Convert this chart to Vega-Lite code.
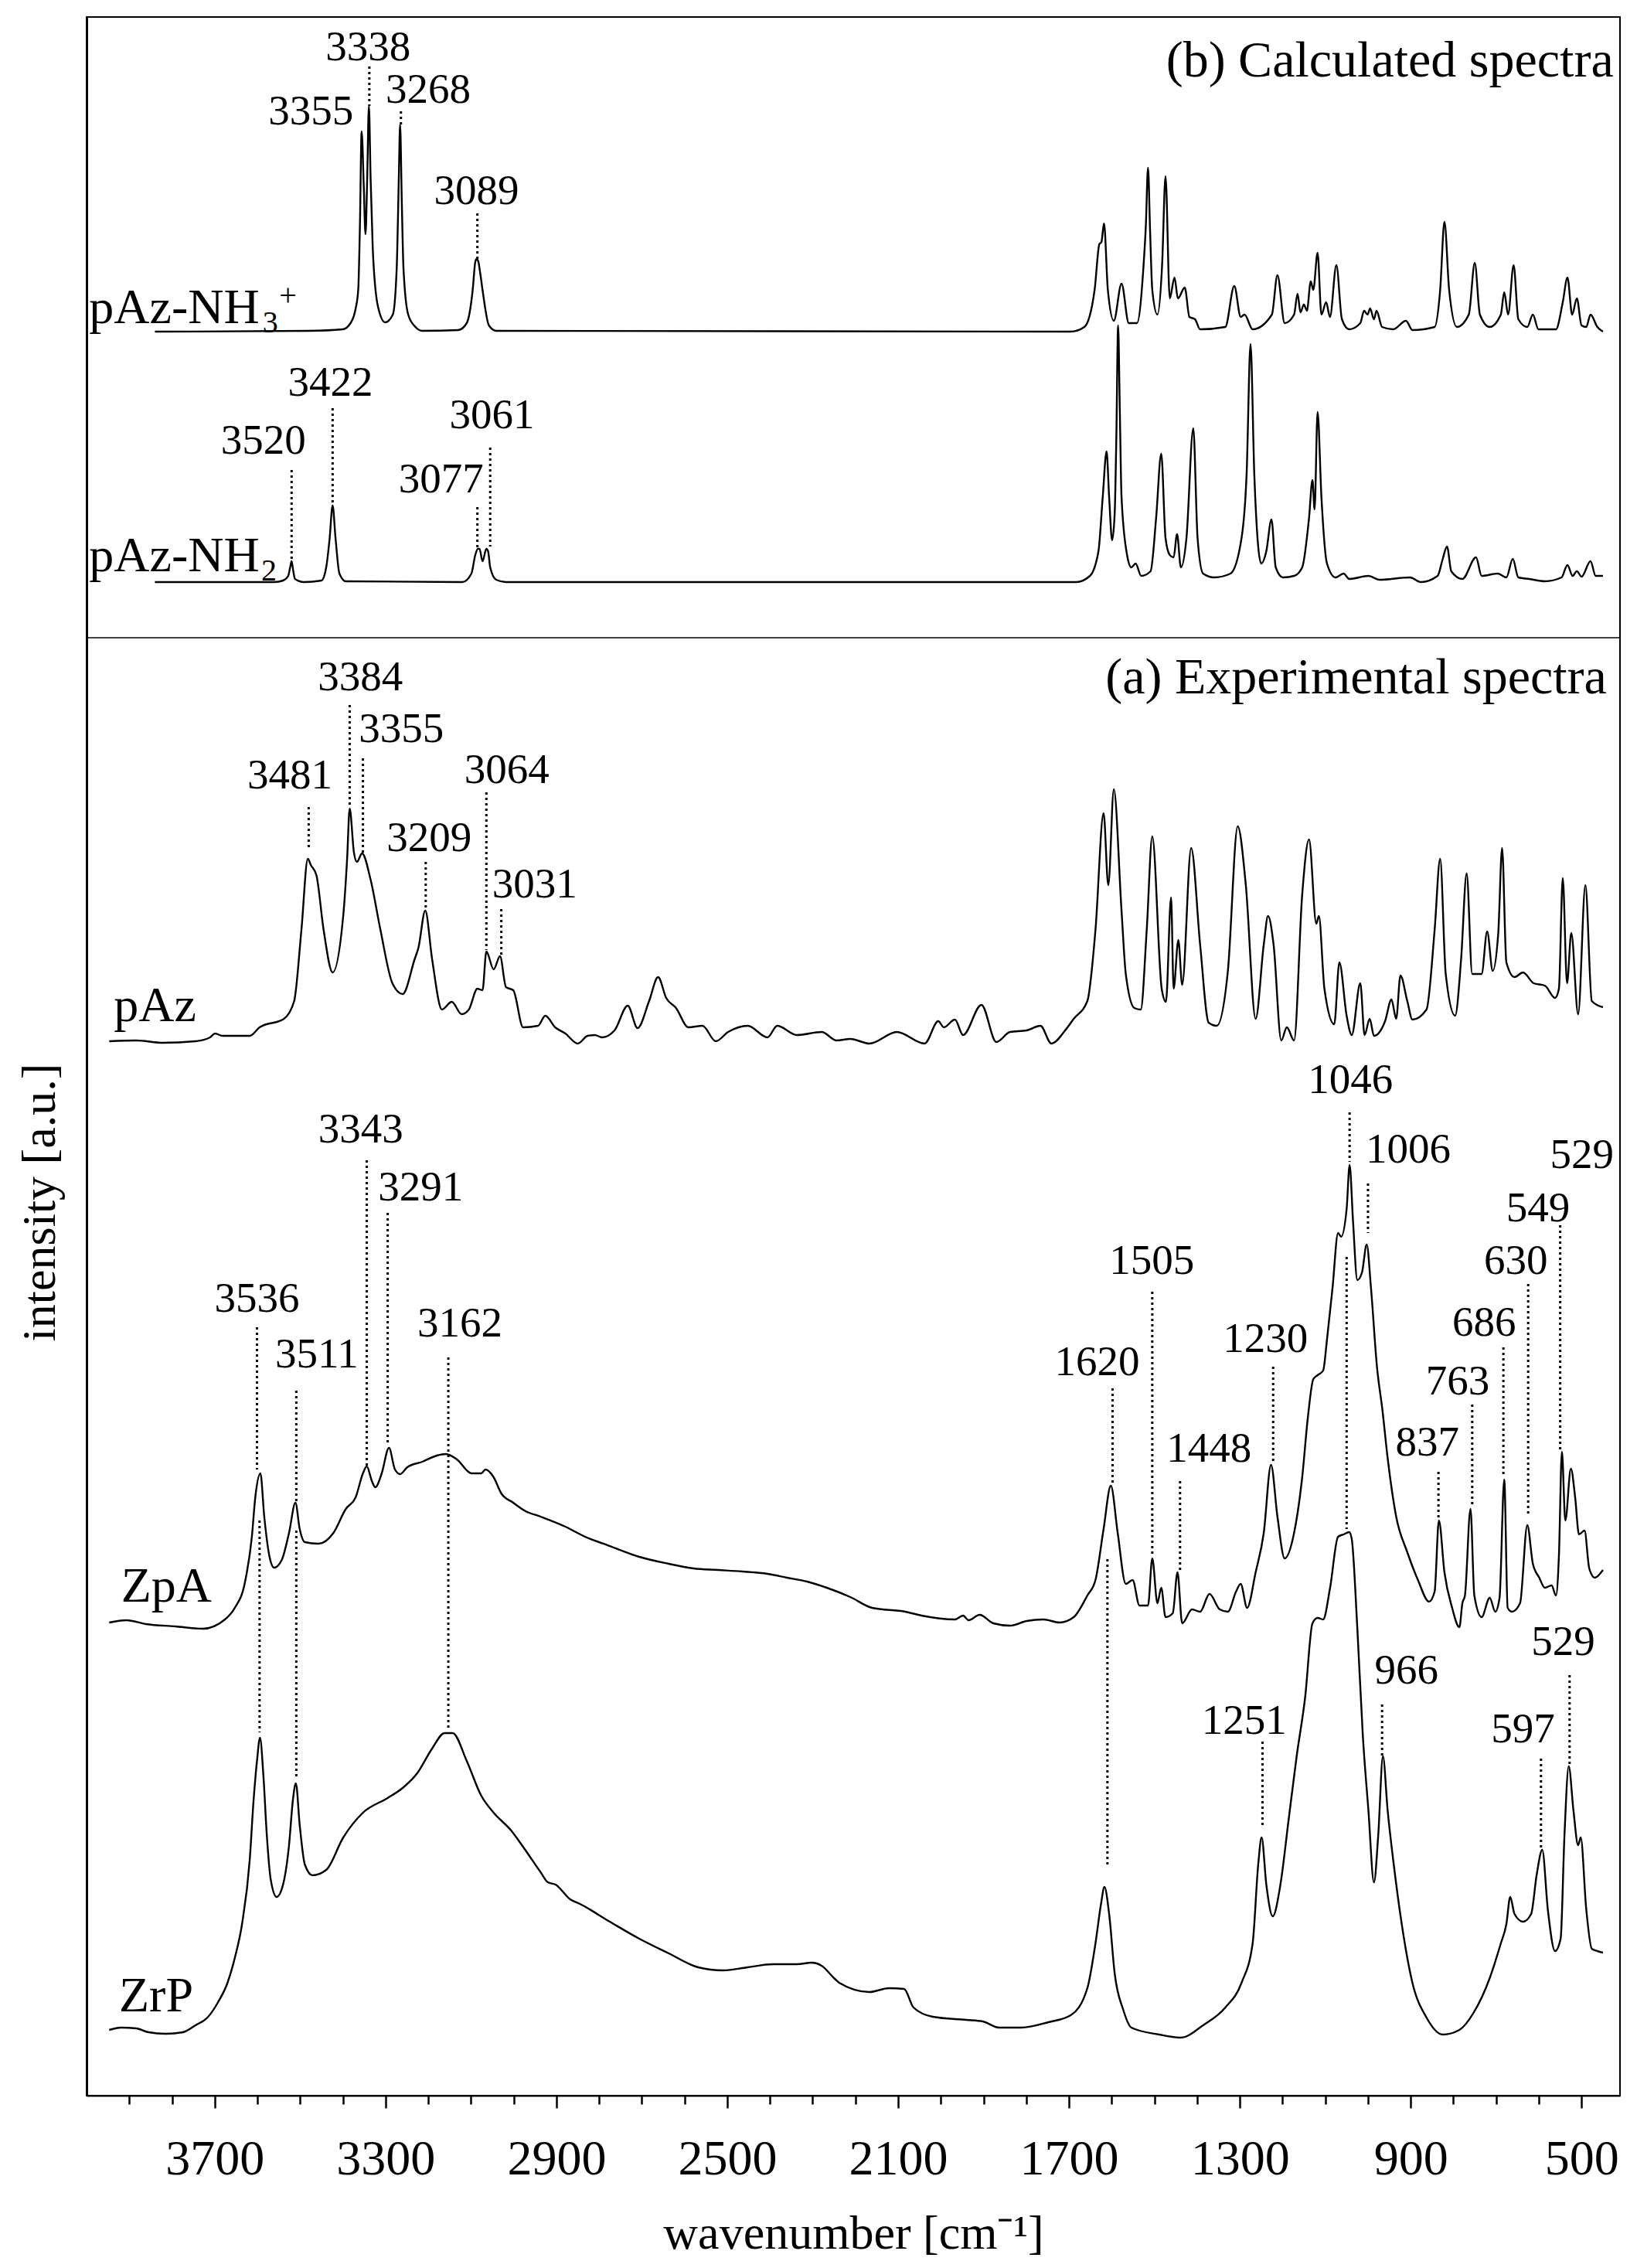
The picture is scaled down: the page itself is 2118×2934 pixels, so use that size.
{
"$schema": "https://vega.github.io/schema/vega-lite/v6.json",
"width": 1984, "height": 2689,
"autosize": {"type": "none"},
"padding": {"left": 112, "top": 22, "right": 22, "bottom": 223},
"background": "white",
"config": {"view": {"stroke": "black", "strokeWidth": 2}, "font": "Liberation Serif"},
"datasets": {
"spectra": [
{"s":"nh3","w":3840,"v":2282},{"s":"nh3","w":3480,"v":2283},{"s":"nh3","w":3400,"v":2285},{"s":"nh3","w":3382,"v":2293},{"s":"nh3","w":3370,"v":2312},{"s":"nh3","w":3364,"v":2336},{"s":"nh3","w":3360,"v":2420},{"s":"nh3","w":3356,"v":2541},{"s":"nh3","w":3351,"v":2470},{"s":"nh3","w":3347,"v":2408},{"s":"nh3","w":3343,"v":2480},{"s":"nh3","w":3339,"v":2574},{"s":"nh3","w":3335,"v":2480},{"s":"nh3","w":3330,"v":2390},{"s":"nh3","w":3318,"v":2315},{"s":"nh3","w":3301,"v":2294},{"s":"nh3","w":3283,"v":2304},{"s":"nh3","w":3274,"v":2363},{"s":"nh3","w":3269,"v":2480},{"s":"nh3","w":3266,"v":2550},{"s":"nh3","w":3262,"v":2450},{"s":"nh3","w":3258,"v":2363},{"s":"nh3","w":3247,"v":2304},{"s":"nh3","w":3230,"v":2288},{"s":"nh3","w":3214,"v":2283},{"s":"nh3","w":3130,"v":2284},{"s":"nh3","w":3110,"v":2293},{"s":"nh3","w":3096,"v":2336},{"s":"nh3","w":3090,"v":2372},{"s":"nh3","w":3087,"v":2376},{"s":"nh3","w":3083,"v":2373},{"s":"nh3","w":3079,"v":2360},{"s":"nh3","w":3073,"v":2336},{"s":"nh3","w":3058,"v":2290},{"s":"nh3","w":3041,"v":2283},{"s":"nh3","w":1696,"v":2282},
{"s":"nh3","w":1664,"v":2288},{"s":"nh3","w":1640,"v":2336},{"s":"nh3","w":1629,"v":2395},{"s":"nh3","w":1624,"v":2398},{"s":"nh3","w":1618,"v":2422},{"s":"nh3","w":1609,"v":2336},{"s":"nh3","w":1595,"v":2296},{"s":"nh3","w":1577,"v":2344},{"s":"nh3","w":1560,"v":2293},{"s":"nh3","w":1541,"v":2293},{"s":"nh3","w":1526,"v":2363},{"s":"nh3","w":1520,"v":2420},{"s":"nh3","w":1515,"v":2494},{"s":"nh3","w":1510,"v":2410},{"s":"nh3","w":1505,"v":2336},{"s":"nh3","w":1493,"v":2304},{"s":"nh3","w":1482,"v":2368},{"s":"nh3","w":1474,"v":2483},{"s":"nh3","w":1464,"v":2325},{"s":"nh3","w":1453,"v":2352},{"s":"nh3","w":1445,"v":2325},{"s":"nh3","w":1429,"v":2339},{"s":"nh3","w":1418,"v":2301},{"s":"nh3","w":1405,"v":2298},{"s":"nh3","w":1393,"v":2285},{"s":"nh3","w":1334,"v":2288},{"s":"nh3","w":1313,"v":2341},{"s":"nh3","w":1298,"v":2301},{"s":"nh3","w":1289,"v":2304},{"s":"nh3","w":1270,"v":2285},{"s":"nh3","w":1225,"v":2304},{"s":"nh3","w":1212,"v":2355},{"s":"nh3","w":1195,"v":2293},{"s":"nh3","w":1173,"v":2304},{"s":"nh3","w":1165,"v":2331},{"s":"nh3","w":1158,"v":2307},{"s":"nh3","w":1150,"v":2317},{"s":"nh3","w":1143,"v":2309},{"s":"nh3","w":1134,"v":2347},{"s":"nh3","w":1128,"v":2336},{"s":"nh3","w":1118,"v":2384},{"s":"nh3","w":1109,"v":2304},{"s":"nh3","w":1098,"v":2320},{"s":"nh3","w":1089,"v":2301},{"s":"nh3","w":1074,"v":2368},{"s":"nh3","w":1061,"v":2298},{"s":"nh3","w":1044,"v":2285},{"s":"nh3","w":1018,"v":2293},{"s":"nh3","w":1009,"v":2309},{"s":"nh3","w":1001,"v":2304},{"s":"nh3","w":995,"v":2312},{"s":"nh3","w":986,"v":2298},{"s":"nh3","w":980,"v":2309},{"s":"nh3","w":967,"v":2288},{"s":"nh3","w":941,"v":2285},{"s":"nh3","w":911,"v":2296},{"s":"nh3","w":896,"v":2284},{"s":"nh3","w":844,"v":2288},{"s":"nh3","w":831,"v":2336},{"s":"nh3","w":821,"v":2424},{"s":"nh3","w":810,"v":2336},{"s":"nh3","w":792,"v":2288},{"s":"nh3","w":764,"v":2304},{"s":"nh3","w":750,"v":2371},{"s":"nh3","w":738,"v":2304},{"s":"nh3","w":715,"v":2288},{"s":"nh3","w":689,"v":2304},{"s":"nh3","w":681,"v":2333},{"s":"nh3","w":672,"v":2304},{"s":"nh3","w":659,"v":2368},{"s":"nh3","w":648,"v":2298},{"s":"nh3","w":627,"v":2288},{"s":"nh3","w":614,"v":2304},{"s":"nh3","w":601,"v":2285},{"s":"nh3","w":560,"v":2285},{"s":"nh3","w":544,"v":2320},{"s":"nh3","w":533,"v":2352},{"s":"nh3","w":522,"v":2304},{"s":"nh3","w":511,"v":2325},{"s":"nh3","w":500,"v":2290},{"s":"nh3","w":489,"v":2288},{"s":"nh3","w":479,"v":2304},{"s":"nh3","w":463,"v":2288},{"s":"nh3","w":450,"v":2282},
{"s":"nh2","w":3840,"v":1958},{"s":"nh2","w":3560,"v":1958},{"s":"nh2","w":3540,"v":1960},{"s":"nh2","w":3528,"v":1966},{"s":"nh2","w":3523,"v":1978},{"s":"nh2","w":3520,"v":1985},{"s":"nh2","w":3516,"v":1972},{"s":"nh2","w":3512,"v":1962},{"s":"nh2","w":3491,"v":1958},{"s":"nh2","w":3450,"v":1960},{"s":"nh2","w":3439,"v":1977},{"s":"nh2","w":3431,"v":2014},{"s":"nh2","w":3424,"v":2057},{"s":"nh2","w":3417,"v":2014},{"s":"nh2","w":3408,"v":1969},{"s":"nh2","w":3393,"v":1959},{"s":"nh2","w":3120,"v":1958},{"s":"nh2","w":3099,"v":1969},{"s":"nh2","w":3090,"v":1993},{"s":"nh2","w":3084,"v":2001},{"s":"nh2","w":3080,"v":2001},{"s":"nh2","w":3073,"v":1985},{"s":"nh2","w":3064,"v":2001},{"s":"nh2","w":3060,"v":1998},{"s":"nh2","w":3055,"v":1977},{"s":"nh2","w":3041,"v":1961},{"s":"nh2","w":3018,"v":1958},{"s":"nh2","w":1683,"v":1958},
{"s":"nh2","w":1651,"v":1966},{"s":"nh2","w":1631,"v":1998},{"s":"nh2","w":1621,"v":2068},{"s":"nh2","w":1612,"v":2127},{"s":"nh2","w":1606,"v":2068},{"s":"nh2","w":1599,"v":2012},{"s":"nh2","w":1593,"v":2047},{"s":"nh2","w":1589,"v":2150},{"s":"nh2","w":1585,"v":2290},{"s":"nh2","w":1581,"v":2180},{"s":"nh2","w":1577,"v":2068},{"s":"nh2","w":1564,"v":1993},{"s":"nh2","w":1554,"v":1977},{"s":"nh2","w":1544,"v":1982},{"s":"nh2","w":1531,"v":1966},{"s":"nh2","w":1509,"v":1972},{"s":"nh2","w":1496,"v":2041},{"s":"nh2","w":1484,"v":2124},{"s":"nh2","w":1474,"v":2015},{"s":"nh2","w":1464,"v":1993},{"s":"nh2","w":1455,"v":1990},{"s":"nh2","w":1447,"v":2020},{"s":"nh2","w":1438,"v":1977},{"s":"nh2","w":1425,"v":2015},{"s":"nh2","w":1409,"v":2157},{"s":"nh2","w":1399,"v":2015},{"s":"nh2","w":1386,"v":1969},{"s":"nh2","w":1360,"v":1964},{"s":"nh2","w":1322,"v":1969},{"s":"nh2","w":1296,"v":2015},{"s":"nh2","w":1284,"v":2100},{"s":"nh2","w":1275,"v":2266},{"s":"nh2","w":1266,"v":2095},{"s":"nh2","w":1250,"v":1982},{"s":"nh2","w":1238,"v":1998},{"s":"nh2","w":1226,"v":2039},{"s":"nh2","w":1216,"v":1977},{"s":"nh2","w":1199,"v":1964},{"s":"nh2","w":1173,"v":1966},{"s":"nh2","w":1154,"v":1977},{"s":"nh2","w":1138,"v":2041},{"s":"nh2","w":1130,"v":2090},{"s":"nh2","w":1125,"v":2052},{"s":"nh2","w":1118,"v":2178},{"s":"nh2","w":1109,"v":2068},{"s":"nh2","w":1096,"v":1982},{"s":"nh2","w":1076,"v":1964},{"s":"nh2","w":1057,"v":1969},{"s":"nh2","w":1044,"v":1962},{"s":"nh2","w":999,"v":1966},{"s":"nh2","w":973,"v":1961},{"s":"nh2","w":902,"v":1964},{"s":"nh2","w":876,"v":1958},{"s":"nh2","w":837,"v":1966},{"s":"nh2","w":825,"v":1988},{"s":"nh2","w":815,"v":2004},{"s":"nh2","w":805,"v":1972},{"s":"nh2","w":779,"v":1962},{"s":"nh2","w":747,"v":1990},{"s":"nh2","w":734,"v":1966},{"s":"nh2","w":696,"v":1969},{"s":"nh2","w":676,"v":1964},{"s":"nh2","w":661,"v":1988},{"s":"nh2","w":648,"v":1964},{"s":"nh2","w":622,"v":1962},{"s":"nh2","w":586,"v":1959},{"s":"nh2","w":547,"v":1964},{"s":"nh2","w":533,"v":1980},{"s":"nh2","w":521,"v":1966},{"s":"nh2","w":511,"v":1972},{"s":"nh2","w":500,"v":1965},{"s":"nh2","w":479,"v":1985},{"s":"nh2","w":467,"v":1966},{"s":"nh2","w":450,"v":1966},
{"s":"paz","w":3947,"v":1364},{"s":"paz","w":3884,"v":1365},{"s":"paz","w":3821,"v":1362},{"s":"paz","w":3745,"v":1364},{"s":"paz","w":3711,"v":1369},{"s":"paz","w":3699,"v":1374},{"s":"paz","w":3682,"v":1371},{"s":"paz","w":3618,"v":1371},{"s":"paz","w":3595,"v":1382},{"s":"paz","w":3538,"v":1393},{"s":"paz","w":3514,"v":1416},{"s":"paz","w":3497,"v":1508},{"s":"paz","w":3482,"v":1600},{"s":"paz","w":3475,"v":1592},{"s":"paz","w":3462,"v":1579},{"s":"paz","w":3445,"v":1508},{"s":"paz","w":3424,"v":1453},{"s":"paz","w":3399,"v":1527},{"s":"paz","w":3390,"v":1600},{"s":"paz","w":3384,"v":1665},{"s":"paz","w":3374,"v":1608},{"s":"paz","w":3367,"v":1596},{"s":"paz","w":3355,"v":1607},{"s":"paz","w":3335,"v":1573},{"s":"paz","w":3312,"v":1508},{"s":"paz","w":3284,"v":1439},{"s":"paz","w":3260,"v":1425},{"s":"paz","w":3232,"v":1470},{"s":"paz","w":3223,"v":1485},{"s":"paz","w":3207,"v":1533},{"s":"paz","w":3191,"v":1470},{"s":"paz","w":3168,"v":1405},{"s":"paz","w":3145,"v":1415},{"s":"paz","w":3122,"v":1399},{"s":"paz","w":3105,"v":1405},{"s":"paz","w":3085,"v":1432},{"s":"paz","w":3073,"v":1430},{"s":"paz","w":3064,"v":1480},{"s":"paz","w":3047,"v":1457},{"s":"paz","w":3032,"v":1474},{"s":"paz","w":3018,"v":1434},{"s":"paz","w":3001,"v":1430},{"s":"paz","w":2978,"v":1382},{"s":"paz","w":2943,"v":1384},{"s":"paz","w":2926,"v":1397},{"s":"paz","w":2903,"v":1382},{"s":"paz","w":2879,"v":1374},{"s":"paz","w":2850,"v":1361},{"s":"paz","w":2827,"v":1371},{"s":"paz","w":2810,"v":1372},{"s":"paz","w":2793,"v":1369},{"s":"paz","w":2764,"v":1378},{"s":"paz","w":2733,"v":1410},{"s":"paz","w":2710,"v":1381},{"s":"paz","w":2683,"v":1416},{"s":"paz","w":2662,"v":1447},{"s":"paz","w":2643,"v":1420},{"s":"paz","w":2620,"v":1407},{"s":"paz","w":2591,"v":1382},{"s":"paz","w":2558,"v":1384},{"s":"paz","w":2527,"v":1364},{"s":"paz","w":2498,"v":1376},{"s":"paz","w":2452,"v":1384},{"s":"paz","w":2406,"v":1369},{"s":"paz","w":2383,"v":1384},{"s":"paz","w":2337,"v":1372},{"s":"paz","w":2279,"v":1376},{"s":"paz","w":2244,"v":1365},{"s":"paz","w":2212,"v":1367},
{"s":"paz","w":2167,"v":1361},{"s":"paz","w":2103,"v":1376},{"s":"paz","w":2038,"v":1361},{"s":"paz","w":2006,"v":1390},{"s":"paz","w":1993,"v":1382},{"s":"paz","w":1967,"v":1392},{"s":"paz","w":1948,"v":1372},{"s":"paz","w":1905,"v":1411},{"s":"paz","w":1870,"v":1363},{"s":"paz","w":1838,"v":1376},{"s":"paz","w":1799,"v":1378},{"s":"paz","w":1767,"v":1384},{"s":"paz","w":1741,"v":1361},{"s":"paz","w":1709,"v":1378},{"s":"paz","w":1689,"v":1393},{"s":"paz","w":1657,"v":1416},{"s":"paz","w":1638,"v":1508},{"s":"paz","w":1619,"v":1659},{"s":"paz","w":1608,"v":1566},{"s":"paz","w":1595,"v":1690},{"s":"paz","w":1577,"v":1533},{"s":"paz","w":1567,"v":1451},{"s":"paz","w":1547,"v":1407},{"s":"paz","w":1532,"v":1405},{"s":"paz","w":1518,"v":1508},{"s":"paz","w":1505,"v":1629},{"s":"paz","w":1483,"v":1432},{"s":"paz","w":1473,"v":1415},{"s":"paz","w":1461,"v":1550},{"s":"paz","w":1455,"v":1432},{"s":"paz","w":1444,"v":1495},{"s":"paz","w":1435,"v":1437},{"s":"paz","w":1414,"v":1614},{"s":"paz","w":1393,"v":1489},{"s":"paz","w":1373,"v":1388},{"s":"paz","w":1354,"v":1384},{"s":"paz","w":1328,"v":1455},{"s":"paz","w":1305,"v":1642},{"s":"paz","w":1286,"v":1566},{"s":"paz","w":1263,"v":1393},{"s":"paz","w":1244,"v":1489},{"s":"paz","w":1234,"v":1526},{"s":"paz","w":1221,"v":1489},{"s":"paz","w":1203,"v":1365},{"s":"paz","w":1190,"v":1382},{"s":"paz","w":1173,"v":1365},{"s":"paz","w":1154,"v":1554},{"s":"paz","w":1138,"v":1625},{"s":"paz","w":1121,"v":1516},{"s":"paz","w":1115,"v":1526},{"s":"paz","w":1102,"v":1432},{"s":"paz","w":1079,"v":1386},{"s":"paz","w":1067,"v":1466},{"s":"paz","w":1050,"v":1397},{"s":"paz","w":1038,"v":1372},{"s":"paz","w":1018,"v":1439},{"s":"paz","w":1008,"v":1372},{"s":"paz","w":996,"v":1393},{"s":"paz","w":986,"v":1371},{"s":"paz","w":960,"v":1390},{"s":"paz","w":945,"v":1418},{"s":"paz","w":934,"v":1393},{"s":"paz","w":924,"v":1449},{"s":"paz","w":908,"v":1416},{"s":"paz","w":896,"v":1392},{"s":"paz","w":863,"v":1405},{"s":"paz","w":844,"v":1508},{"s":"paz","w":831,"v":1600},{"s":"paz","w":818,"v":1451},{"s":"paz","w":796,"v":1397},{"s":"paz","w":782,"v":1470},{"s":"paz","w":769,"v":1581},{"s":"paz","w":756,"v":1451},{"s":"paz","w":734,"v":1451},{"s":"paz","w":721,"v":1506},{"s":"paz","w":708,"v":1455},{"s":"paz","w":695,"v":1504},{"s":"paz","w":686,"v":1614},{"s":"paz","w":676,"v":1466},{"s":"paz","w":657,"v":1447},{"s":"paz","w":637,"v":1453},{"s":"paz","w":612,"v":1439},{"s":"paz","w":586,"v":1436},{"s":"paz","w":562,"v":1420},{"s":"paz","w":553,"v":1432},{"s":"paz","w":544,"v":1575},{"s":"paz","w":534,"v":1439},{"s":"paz","w":524,"v":1504},{"s":"paz","w":508,"v":1399},{"s":"paz","w":491,"v":1566},{"s":"paz","w":476,"v":1416},{"s":"paz","w":450,"v":1408},
{"s":"zpa","w":3947,"v":612},{"s":"zpa","w":3907,"v":615},{"s":"zpa","w":3861,"v":610},{"s":"zpa","w":3792,"v":607},{"s":"zpa","w":3728,"v":604},{"s":"zpa","w":3676,"v":616},{"s":"zpa","w":3653,"v":631},{"s":"zpa","w":3630,"v":662},{"s":"zpa","w":3613,"v":723},{"s":"zpa","w":3605,"v":774},{"s":"zpa","w":3593,"v":805},{"s":"zpa","w":3584,"v":749},{"s":"zpa","w":3572,"v":698},{"s":"zpa","w":3561,"v":683},{"s":"zpa","w":3543,"v":693},{"s":"zpa","w":3526,"v":728},{"s":"zpa","w":3511,"v":767},{"s":"zpa","w":3501,"v":733},{"s":"zpa","w":3489,"v":716},{"s":"zpa","w":3457,"v":714},{"s":"zpa","w":3422,"v":728},{"s":"zpa","w":3393,"v":759},{"s":"zpa","w":3370,"v":774},{"s":"zpa","w":3353,"v":805},{"s":"zpa","w":3344,"v":814},{"s":"zpa","w":3332,"v":795},{"s":"zpa","w":3324,"v":787},{"s":"zpa","w":3309,"v":805},{"s":"zpa","w":3292,"v":838},{"s":"zpa","w":3278,"v":810},{"s":"zpa","w":3266,"v":804},{"s":"zpa","w":3249,"v":813},{"s":"zpa","w":3214,"v":820},{"s":"zpa","w":3180,"v":828},{"s":"zpa","w":3159,"v":830},{"s":"zpa","w":3133,"v":823},{"s":"zpa","w":3099,"v":805},{"s":"zpa","w":3076,"v":805},{"s":"zpa","w":3066,"v":810},{"s":"zpa","w":3047,"v":800},{"s":"zpa","w":3029,"v":779},{"s":"zpa","w":3001,"v":767},{"s":"zpa","w":2972,"v":756},{"s":"zpa","w":2937,"v":749},{"s":"zpa","w":2879,"v":736},{"s":"zpa","w":2833,"v":723},{"s":"zpa","w":2775,"v":711},{"s":"zpa","w":2706,"v":697},{"s":"zpa","w":2637,"v":688},{"s":"zpa","w":2579,"v":682},{"s":"zpa","w":2521,"v":680},{"s":"zpa","w":2464,"v":678},{"s":"zpa","w":2406,"v":675},{"s":"zpa","w":2360,"v":670},{"s":"zpa","w":2313,"v":665},{"s":"zpa","w":2267,"v":657},{"s":"zpa","w":2212,"v":645},
{"s":"zpa","w":2161,"v":631},{"s":"zpa","w":2083,"v":626},{"s":"zpa","w":2045,"v":621},{"s":"zpa","w":1967,"v":616},{"s":"zpa","w":1948,"v":621},{"s":"zpa","w":1935,"v":615},{"s":"zpa","w":1909,"v":622},{"s":"zpa","w":1877,"v":611},{"s":"zpa","w":1838,"v":608},{"s":"zpa","w":1799,"v":614},{"s":"zpa","w":1760,"v":616},{"s":"zpa","w":1722,"v":612},{"s":"zpa","w":1689,"v":619},{"s":"zpa","w":1657,"v":647},{"s":"zpa","w":1638,"v":667},{"s":"zpa","w":1619,"v":733},{"s":"zpa","w":1602,"v":789},{"s":"zpa","w":1586,"v":728},{"s":"zpa","w":1567,"v":662},{"s":"zpa","w":1551,"v":667},{"s":"zpa","w":1535,"v":634},{"s":"zpa","w":1515,"v":634},{"s":"zpa","w":1505,"v":695},{"s":"zpa","w":1493,"v":637},{"s":"zpa","w":1484,"v":657},{"s":"zpa","w":1474,"v":619},{"s":"zpa","w":1457,"v":624},{"s":"zpa","w":1446,"v":677},{"s":"zpa","w":1435,"v":611},{"s":"zpa","w":1412,"v":629},{"s":"zpa","w":1393,"v":626},{"s":"zpa","w":1371,"v":649},{"s":"zpa","w":1347,"v":629},{"s":"zpa","w":1328,"v":626},{"s":"zpa","w":1309,"v":652},{"s":"zpa","w":1298,"v":662},{"s":"zpa","w":1283,"v":631},{"s":"zpa","w":1263,"v":677},{"s":"zpa","w":1244,"v":728},{"s":"zpa","w":1227,"v":816},{"s":"zpa","w":1212,"v":749},{"s":"zpa","w":1195,"v":695},{"s":"zpa","w":1173,"v":728},{"s":"zpa","w":1154,"v":800},{"s":"zpa","w":1141,"v":876},{"s":"zpa","w":1128,"v":927},{"s":"zpa","w":1118,"v":932},{"s":"zpa","w":1105,"v":938},{"s":"zpa","w":1096,"v":978},{"s":"zpa","w":1083,"v":1045},{"s":"zpa","w":1070,"v":1116},{"s":"zpa","w":1063,"v":1111},{"s":"zpa","w":1050,"v":1147},{"s":"zpa","w":1043,"v":1204},{"s":"zpa","w":1035,"v":1131},{"s":"zpa","w":1025,"v":1055},{"s":"zpa","w":1014,"v":1065},{"s":"zpa","w":1003,"v":1101},{"s":"zpa","w":993,"v":1045},{"s":"zpa","w":979,"v":943},{"s":"zpa","w":966,"v":886},{"s":"zpa","w":954,"v":825},{"s":"zpa","w":934,"v":749},{"s":"zpa","w":908,"v":703},{"s":"zpa","w":883,"v":667},{"s":"zpa","w":857,"v":639},{"s":"zpa","w":844,"v":652},{"s":"zpa","w":834,"v":744},{"s":"zpa","w":821,"v":677},{"s":"zpa","w":803,"v":631},{"s":"zpa","w":786,"v":606},{"s":"zpa","w":779,"v":637},{"s":"zpa","w":773,"v":647},{"s":"zpa","w":760,"v":759},{"s":"zpa","w":751,"v":647},{"s":"zpa","w":734,"v":619},{"s":"zpa","w":715,"v":644},{"s":"zpa","w":702,"v":626},{"s":"zpa","w":692,"v":644},{"s":"zpa","w":681,"v":797},{"s":"zpa","w":673,"v":631},{"s":"zpa","w":663,"v":626},{"s":"zpa","w":644,"v":637},{"s":"zpa","w":627,"v":738},{"s":"zpa","w":614,"v":688},{"s":"zpa","w":599,"v":670},{"s":"zpa","w":586,"v":657},{"s":"zpa","w":570,"v":660},{"s":"zpa","w":560,"v":647},{"s":"zpa","w":553,"v":698},{"s":"zpa","w":546,"v":833},{"s":"zpa","w":538,"v":744},{"s":"zpa","w":525,"v":811},{"s":"zpa","w":515,"v":774},{"s":"zpa","w":506,"v":726},{"s":"zpa","w":493,"v":731},{"s":"zpa","w":482,"v":682},{"s":"zpa","w":469,"v":670},{"s":"zpa","w":450,"v":680},
{"s":"zrp","w":3947,"v":85},{"s":"zrp","w":3919,"v":88},{"s":"zrp","w":3884,"v":87},{"s":"zrp","w":3855,"v":82},{"s":"zrp","w":3815,"v":80},{"s":"zrp","w":3774,"v":82},{"s":"zrp","w":3745,"v":91},{"s":"zrp","w":3717,"v":101},{"s":"zrp","w":3693,"v":120},{"s":"zrp","w":3670,"v":146},{"s":"zrp","w":3653,"v":178},{"s":"zrp","w":3636,"v":222},{"s":"zrp","w":3618,"v":305},{"s":"zrp","w":3609,"v":382},{"s":"zrp","w":3601,"v":433},{"s":"zrp","w":3594,"v":463},{"s":"zrp","w":3586,"v":414},{"s":"zrp","w":3578,"v":337},{"s":"zrp","w":3569,"v":280},{"s":"zrp","w":3555,"v":257},{"s":"zrp","w":3540,"v":273},{"s":"zrp","w":3526,"v":324},{"s":"zrp","w":3517,"v":382},{"s":"zrp","w":3510,"v":404},{"s":"zrp","w":3501,"v":350},{"s":"zrp","w":3489,"v":299},{"s":"zrp","w":3471,"v":285},{"s":"zrp","w":3439,"v":292},{"s":"zrp","w":3399,"v":334},{"s":"zrp","w":3353,"v":366},{"s":"zrp","w":3295,"v":385},{"s":"zrp","w":3260,"v":398},{"s":"zrp","w":3226,"v":417},{"s":"zrp","w":3191,"v":449},{"s":"zrp","w":3162,"v":469},{"s":"zrp","w":3143,"v":469},{"s":"zrp","w":3110,"v":433},{"s":"zrp","w":3076,"v":388},{"s":"zrp","w":3047,"v":366},{"s":"zrp","w":3006,"v":343},{"s":"zrp","w":2977,"v":321},{"s":"zrp","w":2937,"v":289},{"s":"zrp","w":2920,"v":276},{"s":"zrp","w":2902,"v":273},{"s":"zrp","w":2868,"v":254},{"s":"zrp","w":2845,"v":248},{"s":"zrp","w":2775,"v":225},{"s":"zrp","w":2706,"v":203},{"s":"zrp","w":2637,"v":184},{"s":"zrp","w":2568,"v":166},{"s":"zrp","w":2510,"v":162},{"s":"zrp","w":2452,"v":166},{"s":"zrp","w":2394,"v":170},{"s":"zrp","w":2337,"v":170},{"s":"zrp","w":2302,"v":172},{"s":"zrp","w":2279,"v":168},{"s":"zrp","w":2250,"v":152},{"s":"zrp","w":2238,"v":146},{"s":"zrp","w":2167,"v":134},{"s":"zrp","w":2122,"v":139},{"s":"zrp","w":2086,"v":138},{"s":"zrp","w":2064,"v":114},{"s":"zrp","w":2019,"v":102},{"s":"zrp","w":1941,"v":98},{"s":"zrp","w":1902,"v":96},{"s":"zrp","w":1864,"v":88},{"s":"zrp","w":1812,"v":88},{"s":"zrp","w":1748,"v":95},{"s":"zrp","w":1696,"v":104},{"s":"zrp","w":1657,"v":139},{"s":"zrp","w":1638,"v":197},{"s":"zrp","w":1625,"v":248},{"s":"zrp","w":1617,"v":270},{"s":"zrp","w":1606,"v":235},{"s":"zrp","w":1593,"v":158},{"s":"zrp","w":1573,"v":111},{"s":"zrp","w":1554,"v":88},{"s":"zrp","w":1489,"v":79},{"s":"zrp","w":1438,"v":75},{"s":"zrp","w":1386,"v":91},{"s":"zrp","w":1334,"v":114},{"s":"zrp","w":1296,"v":146},{"s":"zrp","w":1270,"v":197},{"s":"zrp","w":1257,"v":299},{"s":"zrp","w":1249,"v":334},{"s":"zrp","w":1238,"v":273},{"s":"zrp","w":1223,"v":232},{"s":"zrp","w":1205,"v":273},{"s":"zrp","w":1186,"v":356},{"s":"zrp","w":1167,"v":439},{"s":"zrp","w":1147,"v":516},{"s":"zrp","w":1130,"v":611},{"s":"zrp","w":1118,"v":618},{"s":"zrp","w":1105,"v":616},{"s":"zrp","w":1089,"v":656},{"s":"zrp","w":1070,"v":723},{"s":"zrp","w":1057,"v":726},{"s":"zrp","w":1044,"v":729},{"s":"zrp","w":1038,"v":720},{"s":"zrp","w":1025,"v":605},{"s":"zrp","w":1012,"v":465},{"s":"zrp","w":999,"v":369},{"s":"zrp","w":986,"v":276},{"s":"zrp","w":976,"v":337},{"s":"zrp","w":965,"v":439},{"s":"zrp","w":954,"v":369},{"s":"zrp","w":941,"v":305},{"s":"zrp","w":921,"v":222},{"s":"zrp","w":896,"v":146},{"s":"zrp","w":863,"v":101},{"s":"zrp","w":825,"v":79},{"s":"zrp","w":786,"v":85},{"s":"zrp","w":753,"v":107},{"s":"zrp","w":715,"v":152},{"s":"zrp","w":689,"v":197},{"s":"zrp","w":676,"v":222},{"s":"zrp","w":667,"v":257},{"s":"zrp","w":657,"v":235},{"s":"zrp","w":637,"v":225},{"s":"zrp","w":618,"v":235},{"s":"zrp","w":605,"v":286},{"s":"zrp","w":592,"v":318},{"s":"zrp","w":579,"v":241},{"s":"zrp","w":562,"v":187},{"s":"zrp","w":549,"v":203},{"s":"zrp","w":540,"v":337},{"s":"zrp","w":530,"v":426},{"s":"zrp","w":519,"v":369},{"s":"zrp","w":508,"v":324},{"s":"zrp","w":502,"v":334},{"s":"zrp","w":489,"v":241},{"s":"zrp","w":476,"v":190},{"s":"zrp","w":463,"v":187},{"s":"zrp","w":450,"v":185}
],
"dots": [
{"w":3338,"v1":2625,"v2":2574},{"w":3264,"v1":2567,"v2":2550},{"w":3085,"v1":2435,"v2":2376},{"w":3520,"v1":2103,"v2":1985},{"w":3424,"v1":2183,"v2":2057},{"w":3085,"v1":2055,"v2":2001},{"w":3055,"v1":2132,"v2":2004},
{"w":3480,"v1":1667,"v2":1615},{"w":3384,"v1":1799,"v2":1667},{"w":3353,"v1":1730,"v2":1608},{"w":3206,"v1":1596,"v2":1535},{"w":3064,"v1":1686,"v2":1482},{"w":3029,"v1":1535,"v2":1476},
{"w":3601,"v1":994,"v2":810},{"w":3509,"v1":912,"v2":769},{"w":3344,"v1":1210,"v2":815},{"w":3295,"v1":1142,"v2":841},{"w":3153,"v1":955,"v2":476},{"w":3595,"v1":744,"v2":470},{"w":3509,"v1":731,"v2":410},
{"w":1598,"v1":915,"v2":792},{"w":1610,"v1":694,"v2":296},{"w":1505,"v1":1040,"v2":698},{"w":1440,"v1":795,"v2":680},{"w":1222,"v1":943,"v2":820},{"w":1043,"v1":1272,"v2":1208},{"w":1000,"v1":1180,"v2":1116},{"w":1050,"v1":1085,"v2":733},{"w":835,"v1":807,"v2":746},{"w":756,"v1":894,"v2":762},{"w":683,"v1":968,"v2":800},{"w":625,"v1":1050,"v2":751},{"w":550,"v1":1126,"v2":835},
{"w":1247,"v1":458,"v2":347},{"w":967,"v1":506,"v2":439},{"w":595,"v1":436,"v2":321},{"w":528,"v1":544,"v2":429}
],
"labels": [
{"t":"3338","w":3341,"v":2633},{"t":"3355","w":3475,"v":2550},{"t":"3268","w":3200,"v":2578},{"t":"3089","w":3087,"v":2447},{"t":"3422","w":3429,"v":2199},{"t":"3520","w":3586,"v":2124},{"t":"3061","w":3051,"v":2157},{"t":"3077","w":3170,"v":2074},
{"t":"3384","w":3359,"v":1818},{"t":"3355","w":3263,"v":1751},{"t":"3481","w":3524,"v":1691},{"t":"3209","w":3198,"v":1610},{"t":"3064","w":3016,"v":1698},{"t":"3031","w":2951,"v":1550},
{"t":"3343","w":3358,"v":1233},{"t":"3291","w":3218,"v":1158},{"t":"3536","w":3601,"v":1014},{"t":"3511","w":3461,"v":942},{"t":"3162","w":3126,"v":982},
{"t":"1046","w":1041,"v":1297},{"t":"1006","w":906,"v":1207},{"t":"529","w":499,"v":1200},{"t":"549","w":602,"v":1131},{"t":"630","w":654,"v":1063},{"t":"686","w":728,"v":983},{"t":"763","w":790,"v":907},{"t":"837","w":861,"v":828},{"t":"1505","w":1506,"v":1063},{"t":"1620","w":1634,"v":932},{"t":"1230","w":1240,"v":962},{"t":"1448","w":1372,"v":820},
{"t":"1251","w":1290,"v":468},{"t":"966","w":910,"v":533},{"t":"529","w":543,"v":570},{"t":"597","w":637,"v":457}
],
"names": [
{"t":"pAz-NH","w":3994,"v":2293},{"t":"pAz-NH","w":3994,"v":1972},{"t":"pAz","w":3936,"v":1390},{"t":"ZpA","w":3919,"v":639},{"t":"ZrP","w":3924,"v":109}
],
"subs": [
{"t":"3","w":3588,"v":2281},{"t":"+","w":3549,"v":2316},{"t":"2","w":3591,"v":1960}
],
"panels": [
{"t":"(b) Calculated spectra","w":425,"v":2612},{"t":"(a) Experimental spectra","w":441,"v":1814}
]
},
"layer": [
{
"data": {"name": "spectra"},
"mark": {"type": "line", "color": "black", "strokeWidth": 2.4, "interpolate": "monotone"},
"encoding": {
"x": {"field": "w", "type": "quantitative", "scale": {"domain": [4000, 410], "nice": false, "zero": false},
"axis": {"values": [3900,3800,3700,3600,3500,3400,3300,3200,3100,3000,2900,2800,2700,2600,2500,2400,2300,2200,2100,2000,1900,1800,1700,1600,1500,1400,1300,1200,1100,1000,900,800,700,600,500],
"format": "d", "labelExpr": "datum.value % 400 == 100 ? datum.label : ''",
"tickSize": {"condition": {"test": "datum.value % 400 == 100", "value": 16}, "value": 11},
"tickWidth": 2.5, "tickColor": "black", "domainColor": "black", "domainWidth": 2, "grid": false,
"labelFont": "Liberation Serif", "labelFontSize": 64, "labelColor": "black", "labelBaseline": "alphabetic", "labelPadding": 85, "labelFlush": false, "labelOverlap": false, "labelBound": false,
"title": "wavenumber [cm⁻¹]", "titleFont": "Liberation Serif", "titleFontSize": 62, "titleFontWeight": "normal", "titleColor": "black", "titleBaseline": "alphabetic", "titleY": 197}},
"y": {"field": "v", "type": "quantitative", "scale": {"domain": [0, 2689], "nice": false, "zero": false},
"axis": {"ticks": false, "labels": false, "grid": false, "domain": true, "domainWidth": 3, "domainColor": "black",
"title": "intensity [a.u.]", "titleFont": "Liberation Serif", "titleFontSize": 62, "titleFontWeight": "normal", "titleColor": "black", "titleAngle": -90, "titleX": -42, "titleY": 1533, "titleAlign": "center", "titleBaseline": "alphabetic"}},
"detail": {"field": "s"}
}
},
{
"data": {"name": "dots"},
"mark": {"type": "rule", "color": "black", "strokeWidth": 3, "strokeDash": [3, 4]},
"encoding": {"x": {"field": "w", "type": "quantitative"}, "y": {"field": "v1", "type": "quantitative"}, "y2": {"field": "v2"}}
},
{
"data": {"values": [{"v": 1886}]},
"mark": {"type": "rule", "color": "black", "strokeWidth": 1.5},
"encoding": {"y": {"field": "v", "type": "quantitative"}}
},
{
"data": {"name": "labels"},
"mark": {"type": "text", "font": "Liberation Serif", "fontSize": 55, "align": "center", "baseline": "alphabetic", "color": "black"},
"encoding": {"x": {"field": "w", "type": "quantitative"}, "y": {"field": "v", "type": "quantitative"}, "text": {"field": "t"}}
},
{
"data": {"name": "names"},
"mark": {"type": "text", "font": "Liberation Serif", "fontSize": 64, "align": "left", "baseline": "alphabetic", "color": "black"},
"encoding": {"x": {"field": "w", "type": "quantitative"}, "y": {"field": "v", "type": "quantitative"}, "text": {"field": "t"}}
},
{
"data": {"name": "subs"},
"mark": {"type": "text", "font": "Liberation Serif", "fontSize": 40, "align": "left", "baseline": "alphabetic", "color": "black"},
"encoding": {"x": {"field": "w", "type": "quantitative"}, "y": {"field": "v", "type": "quantitative"}, "text": {"field": "t"}}
},
{
"data": {"name": "panels"},
"mark": {"type": "text", "font": "Liberation Serif", "fontSize": 66, "align": "right", "baseline": "alphabetic", "color": "black"},
"encoding": {"x": {"field": "w", "type": "quantitative"}, "y": {"field": "v", "type": "quantitative"}, "text": {"field": "t"}}
}
]
}
